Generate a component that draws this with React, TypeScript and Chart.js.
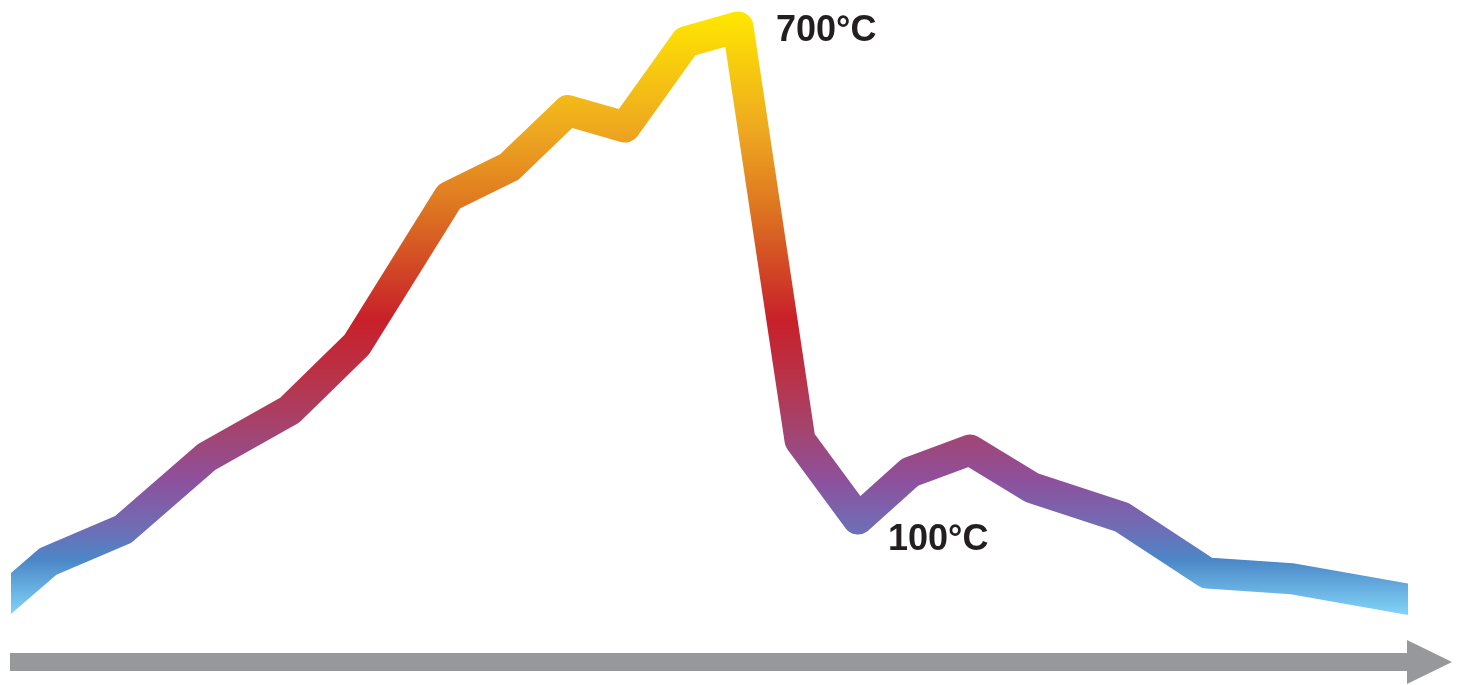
import React, { useEffect, useRef } from "react";
import { Chart, registerables } from "chart.js";

Chart.register(...registerables);

// Time axis (arbitrary units) and furnace temperature (°C)
const times = [0, 3.7, 11.2, 19.6, 27.9, 34.6, 43.8, 49.8, 55.7, 61.4, 67.5, 72.7, 78.9, 84.7, 89.9, 95.9, 102.1, 111.1, 119.6, 128.1, 139.7];
const temps = [9, 48, 87, 176, 233, 313, 493, 529, 598, 578, 682, 700, 196, 100, 157, 184, 138, 102, 34, 27, 2];

// Annotated points: index into data and label text
const labelIndexes = [11, 13];
const labelTexts = ["700°C", "100°C"];

// Gradient stops along the temperature axis
const gradientTemps = [715, 574, 477, 343, 270, 209, 148, 87, 50, -17];
const gradientColors = ["#FFE600", "#EEA820", "#DD7421", "#C8202A", "#B8334A", "#A4446F", "#8E509C", "#6E6EB6", "#4B87C7", "#82D4F8"];

const W = 1457;
const H = 685;

const labelPlugin = {
  id: "labelsAndArrow",
  afterDatasetsDraw(chart: any) {
    const { ctx, scales } = chart;
    const xs = scales.x;
    const ys = scales.y;
    ctx.save();
    // labels
    ctx.font = "bold 36px 'Liberation Sans', Arial, sans-serif";
    ctx.fillStyle = "#231F20";
    ctx.textBaseline = "middle";
    ctx.textAlign = "left";
    const offsets = [
      [38, 4],
      [30, 21],
    ];
    labelIndexes.forEach((idx, i) => {
      const px = xs.getPixelForValue(times[idx]);
      const py = ys.getPixelForValue(temps[idx]);
      ctx.fillText(labelTexts[i], px + offsets[i][0], py + offsets[i][1]);
    });
    // time axis arrow
    const x0 = xs.getPixelForValue(times[0]) - 1;
    const x1 = xs.getPixelForValue(times[times.length - 1]);
    const ay = 662;
    ctx.fillStyle = "#97989B";
    ctx.fillRect(x0, ay - 9, x1 - x0 + 1, 18);
    ctx.beginPath();
    ctx.moveTo(x1 - 1, ay - 22);
    ctx.lineTo(x1 + 44, ay);
    ctx.lineTo(x1 - 1, ay + 22);
    ctx.closePath();
    ctx.fill();
    ctx.restore();
  },
};

export default function App() {
  const ref = useRef<HTMLCanvasElement | null>(null);
  useEffect(() => {
    if (!ref.current) return;
    const chart = new Chart(ref.current, {
      type: "line",
      data: {
        datasets: [
          {
            data: times.map((t, i) => ({ x: t, y: temps[i] })),
            borderWidth: 31,
            borderJoinStyle: "round",
            borderCapStyle: "square",
            clip: { left: 0, right: 0, top: false, bottom: false },
            pointRadius: 0,
            tension: 0,
            fill: false,
            borderColor: (c: any) => {
              const ch = c.chart;
              const ys = ch.scales?.y;
              if (!ys || !ch.chartArea) return "#C8202A";
              const top = ys.getPixelForValue(gradientTemps[0]);
              const bot = ys.getPixelForValue(gradientTemps[gradientTemps.length - 1]);
              const g = ch.ctx.createLinearGradient(0, top, 0, bot);
              gradientTemps.forEach((t, i) => {
                const p = (ys.getPixelForValue(t) - top) / (bot - top);
                g.addColorStop(Math.min(1, Math.max(0, p)), gradientColors[i]);
              });
              return g;
            },
          } as any,
        ],
      },
      options: {
        animation: false,
        responsive: false,
        devicePixelRatio: window.devicePixelRatio || 1,
        layout: { padding: { left: 11, right: 49, top: 0, bottom: 0 } },
        plugins: { legend: { display: false }, tooltip: { enabled: false } },
        scales: {
          x: { type: "linear", display: false, min: 0, max: 139.7 },
          y: { type: "linear", display: false, min: -102.5, max: 732.9 },
        },
      },
      plugins: [labelPlugin],
    });
    return () => chart.destroy();
  }, []);
  return (
    <div style={{ position: "absolute", left: 0, top: 0, width: W, height: H, background: "#fff" }}>
      <canvas ref={ref} width={W} height={H} style={{ width: W, height: H, display: "block" }} />
    </div>
  );
}
